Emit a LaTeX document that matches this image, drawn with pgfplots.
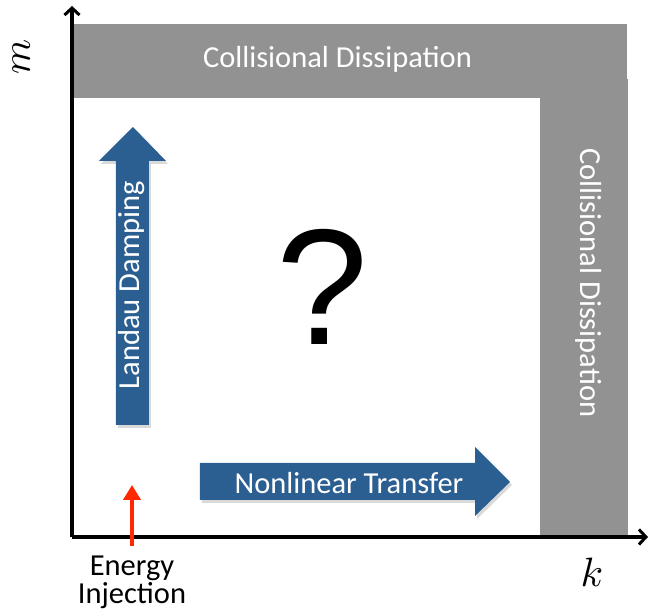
\documentclass[border=0pt]{standalone}
\usepackage{graphicx}
\usepackage{pgfplots}
\pgfplotsset{compat=1.18}
\usetikzlibrary{arrows.meta}
\usepackage{fontspec}
\setmainfont{Carlito}
\newfontfamily\qfont{Liberation Sans}
\definecolor{dgray}{RGB}{146,146,146}
\definecolor{dblue}{RGB}{43,94,145}
\definecolor{ered}{RGB}{255,40,0}
\begin{document}
\begin{tikzpicture}
\useasboundingbox (-72pt,-73pt) rectangle (577pt,537pt);
\begin{axis}[
  at={(0pt,0pt)}, anchor=south west,
  scale only axis, width=576pt, height=531pt,
  xmin=0, xmax=576, ymin=0, ymax=531,
  axis lines=left, axis on top=false,
  axis line style={line width=3.5pt, -{Straight Barb[length=7pt,width=15pt,line width=3pt]}},
  xtick=\empty, ytick=\empty, clip=false,
  every axis plot/.append style={mark=none},
]
% gray dissipation regions
\addplot[fill=dgray, draw=none] coordinates {(1.8,439) (555,439) (555,513) (1.8,513)} -- cycle;
\addplot[fill=dgray, draw=none] coordinates {(468,1.8) (556,1.8) (556,458) (468,458)} -- cycle;
% shadows
\addplot[fill=black, fill opacity=0.15, draw=none] coordinates {(46,109) (79,109) (79,373) (96,373) (63,407) (29,373) (46,373)} -- cycle;
\addplot[fill=black, fill opacity=0.15, draw=none] coordinates {(130,34) (405,34) (405,18) (440,52) (405,87) (405,71) (130,71)} -- cycle;
% Landau damping arrow
\addplot[fill=dblue, draw=none] coordinates {(44,112) (77,112) (77,376) (94,376) (61,410) (27,376) (44,376)} -- cycle;
% Nonlinear transfer arrow
\addplot[fill=dblue, draw=none] coordinates {(128,37) (403,37) (403,21) (438,55) (403,90) (403,74) (128,74)} -- cycle;
% energy injection arrow
\addplot[ered, line width=4.5pt, -{Triangle[length=15pt,width=17pt]}] coordinates {(60,-9) (60,52)};
% texts
\node[anchor=base, text=white, font=\fontsize{30.5}{36}\selectfont] at (axis cs:265.5,469) {Collisional Dissipation};
\node[anchor=base, text=white, rotate=-90, font=\fontsize{30.5}{36}\selectfont] at (axis cs:508,254) {Collisional Dissipation};
\node[anchor=base, text=white, rotate=90, font=\fontsize{30.5}{36}\selectfont] at (axis cs:68,252) {Landau Damping};
\node[anchor=base, text=white, font=\fontsize{30.5}{36}\selectfont] at (axis cs:277,43) {Nonlinear Transfer};
\node[anchor=base, font=\fontsize{30.5}{36}\selectfont] at (axis cs:60,-39) {Energy};
\node[anchor=base, font=\fontsize{30.5}{36}\selectfont] at (axis cs:60,-67) {Injection};
\node[anchor=base, font=\qfont\fontsize{165}{165}\selectfont] at (axis cs:250,192) {?};
\node[anchor=base, rotate=90, inner sep=0pt] at (axis cs:-42,480) {\scalebox{4}{$m$}};
\node[anchor=base, inner sep=0pt] at (axis cs:520,-50) {\scalebox{4.1}{$k$}};
\end{axis}
\end{tikzpicture}
\end{document}
